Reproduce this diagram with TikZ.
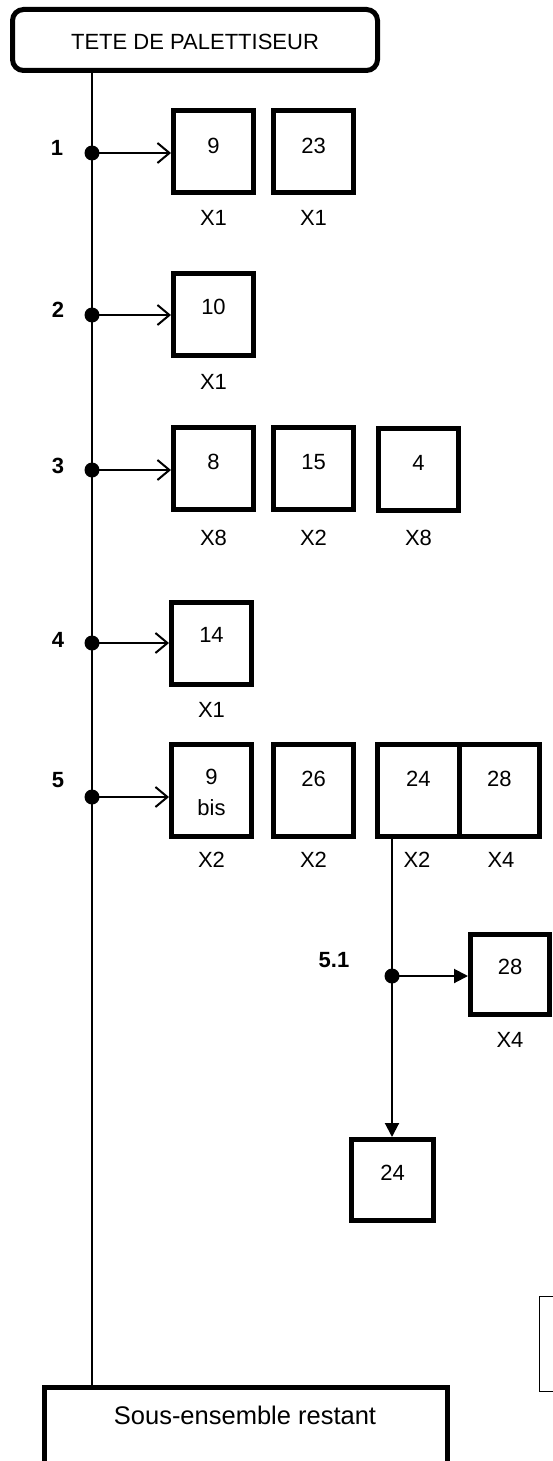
\documentclass[tikz,border=0pt]{standalone}
\usepackage{fontspec}
\setmainfont{Liberation Sans}
\usetikzlibrary{arrows.meta}
\begin{document}
\begin{tikzpicture}[x=1pt,y=-1pt,
  txt/.style={font=\fontsize{22}{26}\selectfont, inner sep=0pt},
  num/.style={font=\bfseries\fontsize{22}{26}\selectfont, inner sep=0pt},
  every label/.style={font=\fontsize{22}{26}\selectfont, inner sep=0pt},
  pbox/.style={draw, line width=5pt, minimum width=80pt, minimum height=82pt, inner sep=0pt},
  trunk/.style={line width=2.3pt},
  openarr/.style={line width=2pt, -{Straight Barb[length=12pt,width=20pt,line width=2pt]}},
  fillarr/.style={line width=2pt, -{Triangle[length=14pt,width=14pt]}},
  dot/.style={circle, fill=black, inner sep=0pt, minimum size=15pt}
]
\useasboundingbox (0,0) rectangle (553,1461);
\clip (0,0) rectangle (553,1461);

% top box
\node[draw, line width=5pt, rounded corners=11pt, minimum width=365pt, minimum height=61pt, inner sep=0pt] (top) at (195,40) {};
\node[txt] (toptxt) at (195,42) {TETE DE PALETTISEUR};

% bottom box
\node[draw, line width=5pt, minimum width=403pt, minimum height=140pt, anchor=north, inner sep=0pt] (bot) at (246,1384.5) {};
\node[font=\fontsize{25.5}{30}\selectfont, inner sep=0pt, anchor=base] (bottxt) at (245,1424) {Sous-ensemble restant};

% right thin box
\node[draw, line width=1.5pt, minimum width=80pt, minimum height=95pt, anchor=north west, inner sep=0pt] (rb) at (538.5,1295.5) {};

% trunk
\coordinate (mx) at (92,0);
\draw[trunk] (top.south -| mx) -- (bot.north -| mx);

% step dots
\node[dot] (d1) at (92,153) {};
\node[dot] (d2) at (92,315) {};
\node[dot] (d3) at (92,470) {};
\node[dot] (d4) at (92,643) {};
\node[dot] (d5) at (92,797) {};

\node[num] (n1) at (57,148) {1};
\node[num] (n2) at (58,310) {2};
\node[num] (n3) at (58,466) {3};
\node[num] (n4) at (58,640) {4};
\node[num] (n5) at (58,780) {5};

% row 1
\node[pbox, label={[yshift=5.5pt]center:9}] (b9) at (213.5,151.5) {};
\node[pbox, label={[yshift=5.5pt]center:23}] (b23) at (313.5,151.5) {};
\node[txt] (x1a) at (213.5,218) {X1};
\node[txt] (x1b) at (313.5,218) {X1};
\draw[openarr] (d1.center) -- (d1 -| b9.west);

% row 2
\node[pbox, label={[yshift=7pt]center:10}] (b10) at (213.5,314) {};
\node[txt] (x2a) at (213.5,382) {X1};
\draw[openarr] (d2.center) -- (d2 -| b10.west);

% row 3
\node[pbox, label={[yshift=6.5pt]center:8}] (b8) at (213.5,468.5) {};
\node[pbox, label={[yshift=6.5pt]center:15}] (b15) at (313.5,468.5) {};
\node[pbox, label={[yshift=6.5pt]center:4}] (b4) at (418.5,469.5) {};
\node[txt] (x3a) at (213.5,538) {X8};
\node[txt] (x3b) at (313.5,538) {X2};
\node[txt] (x3c) at (418.5,538) {X8};
\draw[openarr] (d3.center) -- (d3 -| b8.west);

% row 4
\node[pbox, label={[yshift=8pt]center:14}] (b14) at (211.5,643) {};
\node[txt] (x4a) at (211.5,710) {X1};
\draw[openarr] (d4.center) -- (d4 -| b14.west);

% row 5
\node[pbox, minimum height=92pt, label={[yshift=-2pt, align=center, font=\fontsize{22}{31}\selectfont]center:9\\bis}] (b9b) at (211.5,790.5) {};
\node[pbox, minimum height=92pt, label={[yshift=12pt]center:26}] (b26) at (313.5,790.5) {};
\node[pbox, minimum height=92pt, minimum width=81.5pt, label={[yshift=12pt]center:24}] (b24) at (418.25,790.5) {};
\node[pbox, minimum height=92pt, minimum width=79.5pt, label={[yshift=12pt]center:28}] (b28) at (499.25,790.5) {};
\node[txt] (x5a) at (211.5,860) {X2};
\node[txt] (x5b) at (313.5,860) {X2};
\node[txt] (x5c) at (417,860) {X2};
\node[txt] (x5d) at (501,860) {X4};
\draw[openarr] (d5.center) -- (d5 -| b9b.west);

% 5.1 branch
\node[dot] (d51) at (392,976) {};
\node[num] (n51) at (334,960) {5.1};
\node[pbox, minimum width=79pt, minimum height=80pt, label={[yshift=7.5pt]center:28}] (b28b) at (510,974.5) {};
\node[txt] (x6a) at (510,1040) {X4};
\node[pbox, minimum width=82pt, minimum height=81pt, label={[yshift=7pt]center:24}] (b24b) at (392.5,1180) {};

\draw[line width=2pt] (b24.south -| d51) -- (d51.center);
\draw[fillarr] (d51.center) -- (d51 |- b24b.north);
\draw[fillarr] (d51.center) -- (d51 -| b28b.west);
\end{tikzpicture}
\end{document}
